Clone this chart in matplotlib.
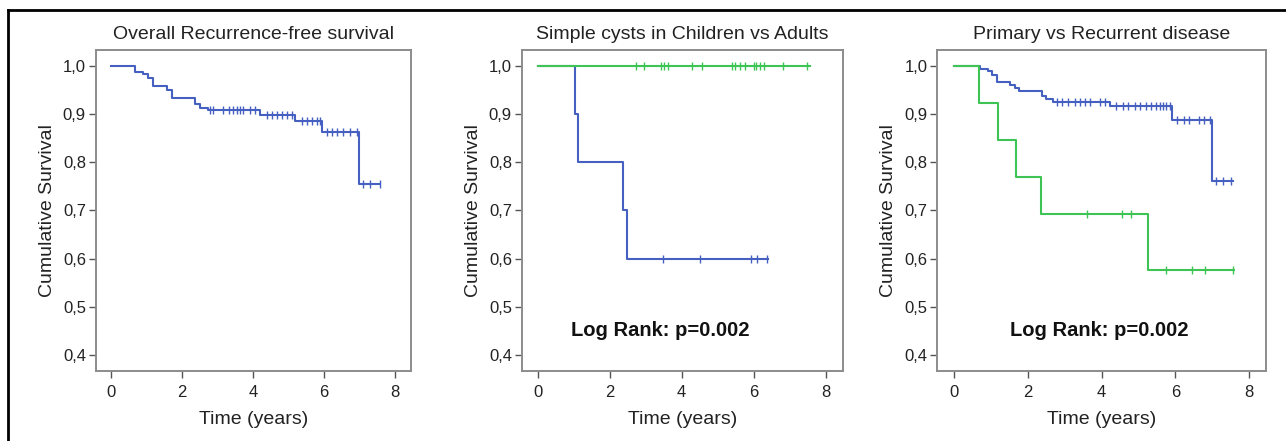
import matplotlib
matplotlib.use("Agg")

import matplotlib.pyplot as plt
from matplotlib.lines import Line2D
import numpy as np

plt.rcParams["font.family"] = ["Liberation Sans", "DejaVu Sans"]

BLUE = "#4560c0"
GREEN = "#3ec455"

# Panel 1 - overall recurrence-free survival
p1_event_t = [0.69, 0.91, 1.05, 1.19, 1.57, 1.71, 2.37, 2.50, 2.74, 4.20, 5.18, 5.93, 6.99]
p1_surv = [0.988, 0.983, 0.974, 0.958, 0.950, 0.933, 0.921, 0.912, 0.908, 0.897, 0.886, 0.862, 0.755]
p1_end = 7.58
p1_cens = [2.79, 2.88, 3.16, 3.31, 3.45, 3.54, 3.63, 3.73, 3.92, 4.06,
           4.39, 4.53, 4.67, 4.81, 4.95, 5.09,
           5.37, 5.51, 5.65, 5.79, 5.89,
           6.08, 6.22, 6.36, 6.54, 6.73, 6.92,
           7.11, 7.30, 7.58]

# Panel 2 - simple cysts: children (blue) vs adults (green)
p2_child_t = [1.04, 1.13, 2.36, 2.47]
p2_child_s = [0.9, 0.8, 0.7, 0.6]
p2_child_end = 6.41
p2_child_cens = [3.49, 4.51, 5.92, 6.10, 6.38]
p2_adult_t = []
p2_adult_s = []
p2_adult_end = 7.56
p2_adult_cens = [2.73, 2.95, 3.44, 3.51, 3.61, 4.28, 4.56, 5.39, 5.48, 5.62, 5.76,
                 6.01, 6.06, 6.18, 6.29, 6.82, 7.49]

# Panel 3 - primary (blue) vs recurrent (green)
p3_prim_t = [0.71, 0.94, 1.03, 1.16, 1.52, 1.66, 1.78, 2.38, 2.50, 2.70, 4.23, 5.90, 6.98]
p3_prim_s = [0.994, 0.989, 0.982, 0.967, 0.961, 0.954, 0.947, 0.938, 0.932, 0.926, 0.917, 0.887, 0.761]
p3_prim_end = 7.55
p3_prim_cens = [2.79, 2.92, 3.10, 3.28, 3.42, 3.55, 3.69, 3.96, 4.09,
                4.40, 4.58, 4.72, 4.90, 5.03, 5.21, 5.35, 5.48, 5.57, 5.66, 5.75, 5.85,
                6.04, 6.22, 6.36, 6.63, 6.77, 6.94,
                7.10, 7.28, 7.50]
p3_rec_t = [0.69, 1.21, 1.69, 2.36, 5.25]
p3_rec_s = [0.923, 0.846, 0.769, 0.692, 0.577]
p3_rec_end = 7.59
p3_rec_cens = [3.60, 4.55, 4.79, 5.75, 6.46, 6.80, 7.57]

titles = ["Overall Recurrence-free survival", "Simple cysts in Children vs Adults",
          "Primary vs Recurrent disease"]
yticks = [0.4, 0.5, 0.6, 0.7, 0.8, 0.9, 1.0]
xticks = [0, 2, 4, 6, 8]
logrank = "Log Rank: p=0.002"


def km_curve(ax, event_t, surv, end, cens, color):
    x = np.array([0.0] + list(event_t) + [end])
    y = np.array([1.0] + list(surv) + [surv[-1] if surv else 1.0])
    ax.step(x, y, where="post", color=color, lw=1.5, zorder=3)
    idx = np.searchsorted(x, np.array(cens), side="right") - 1
    ax.plot(cens, y[idx], ls="none", marker="|", ms=5.5, mew=1.0, color=color, zorder=4)


fig = plt.figure(figsize=(12.86, 4.41), dpi=100)

positions = [
    [95.7 / 1286, 1 - 370.7 / 441, 315 / 1286, 320.7 / 441],
    [521.7 / 1286, 1 - 370.7 / 441, 321 / 1286, 320.7 / 441],
    [937 / 1286, 1 - 370.7 / 441, 329 / 1286, 320.7 / 441],
]
xlims = [(-0.43, 8.44), (-0.44, 8.47), (-0.45, 8.45)]

axes = []
for i, pos in enumerate(positions):
    ax = fig.add_axes(pos)
    ax.set_xlim(*xlims[i])
    ax.set_ylim(0.367, 1.033)
    ax.set_xticks(xticks)
    ax.set_yticks(yticks)
    ax.set_yticklabels([f"{v:.1f}".replace(".", ",") for v in yticks])
    ax.tick_params(direction="out", length=5, width=1, color="#555555",
                   labelsize=12, labelcolor="#222222", pad=2)
    ax.tick_params(axis="x", pad=5)
    for s in ax.spines.values():
        s.set_color("#8c8c8c")
        s.set_linewidth(1.4)
    ax.set_title(titles[i], fontsize=14, color="#222222", pad=8)
    ax.set_xlabel("Time (years)", fontsize=14, color="#222222", labelpad=8)
    ax.set_ylabel("Cumulative Survival", fontsize=14, color="#222222", labelpad=5)
    axes.append(ax)

km_curve(axes[0], p1_event_t, p1_surv, p1_end, p1_cens, BLUE)

km_curve(axes[1], p2_child_t, p2_child_s, p2_child_end, p2_child_cens, BLUE)
km_curve(axes[1], p2_adult_t, p2_adult_s, p2_adult_end, p2_adult_cens, GREEN)
axes[1].text(3.4, 0.451, logrank, ha="center", va="center", fontsize=14.5,
             fontweight="bold", color="#111111")

km_curve(axes[2], p3_prim_t, p3_prim_s, p3_prim_end, p3_prim_cens, BLUE)
km_curve(axes[2], p3_rec_t, p3_rec_s, p3_rec_end, p3_rec_cens, GREEN)
axes[2].text(3.93, 0.451, logrank, ha="center", va="center", fontsize=14.5,
             fontweight="bold", color="#111111")

# black frame on left and top of the image
bx = 7.5 / 1286
by = 1 - 10 / 441
fig.add_artist(Line2D([bx, bx], [0, by], color="black", lw=2, transform=fig.transFigure))
fig.add_artist(Line2D([bx, 1], [by, by], color="black", lw=2, transform=fig.transFigure))

fig.savefig("out.png", dpi=100)
plt.close(fig)
